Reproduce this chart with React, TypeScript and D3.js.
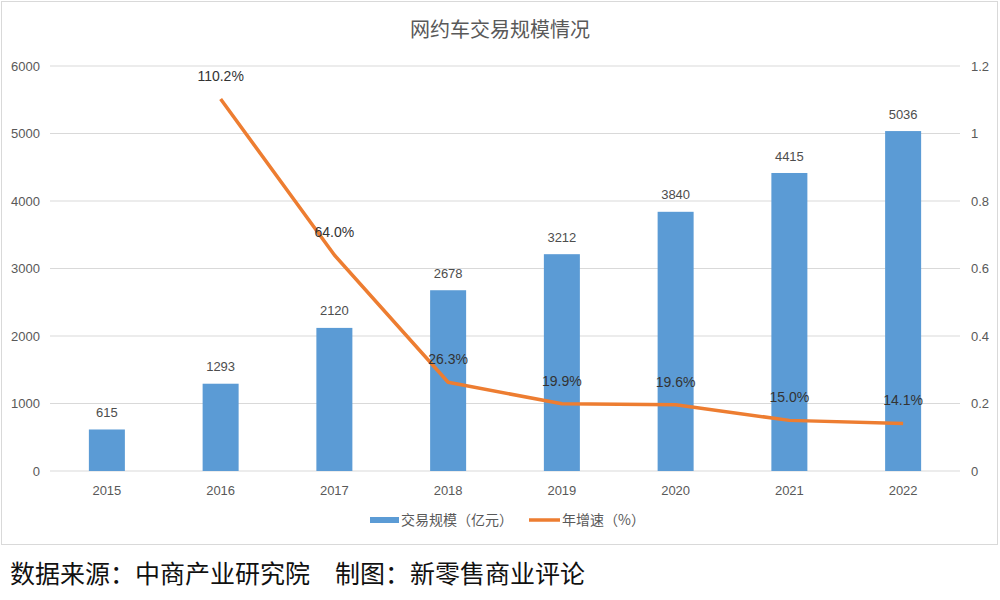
import { useEffect, useRef } from 'react';
import * as d3 from 'd3';

const years = ['2015', '2016', '2017', '2018', '2019', '2020', '2021', '2022'];
const volume = [615, 1293, 2120, 2678, 3212, 3840, 4415, 5036];
const growth = [null, 1.102, 0.64, 0.263, 0.199, 0.196, 0.15, 0.141];
const leftTicks = [0, 1000, 2000, 3000, 4000, 5000, 6000];
const rightTicks = [0, 0.2, 0.4, 0.6, 0.8, 1, 1.2];

const BLUE = '#5B9BD5';
const ORANGE = '#ED7D31';
const GRAY = '#595959';
const FONT = '"Liberation Sans", "Noto Sans CJK SC", sans-serif';
const CJK = '"Noto Sans CJK SC", sans-serif';

const App = () => {
  const ref = useRef<SVGSVGElement>(null);

  useEffect(() => {
    const svg = d3.select(ref.current);
    svg.selectAll('*').remove();

    const left = 50;
    const right = 960;
    const top = 66;
    const bottom = 471;

    // background + chart frame
    svg.append('rect').attr('width', 1000).attr('height', 600).attr('fill', '#fff');
    svg.append('rect')
      .attr('x', 1.5).attr('y', 1.5).attr('width', 996).attr('height', 543)
      .attr('fill', 'none').attr('stroke', '#d9d9d9');

    const x = d3.scaleBand().domain(years).range([left, right]).padding(0);
    const cx = (d: string) => (x(d) as number) + x.bandwidth() / 2;
    const barW = 36;
    const y = d3.scaleLinear().domain([0, 6000]).range([bottom, top]);
    const y2 = d3.scaleLinear().domain([0, 1.2]).range([bottom, top]);

    // title
    svg.append('text')
      .attr('x', 500).attr('y', 37)
      .attr('text-anchor', 'middle')
      .style('font-family', CJK).style('font-size', '20px')
      .attr('fill', GRAY)
      .text('网约车交易规模情况');

    // gridlines
    svg.append('g').selectAll('line').data(leftTicks).join('line')
      .attr('x1', left).attr('x2', right)
      .attr('y1', (d) => y(d)).attr('y2', (d) => y(d))
      .attr('stroke', '#d9d9d9').attr('stroke-width', 1);

    // left axis labels
    svg.append('g').selectAll('text').data(leftTicks).join('text')
      .attr('x', 40).attr('y', (d) => y(d)).attr('dy', '0.35em')
      .attr('text-anchor', 'end')
      .style('font-family', FONT).style('font-size', '13px')
      .attr('fill', GRAY)
      .text((d) => d);

    // right axis labels
    svg.append('g').selectAll('text').data(rightTicks).join('text')
      .attr('x', 971).attr('y', (d) => y2(d)).attr('dy', '0.35em')
      .attr('text-anchor', 'start')
      .style('font-family', FONT).style('font-size', '13px')
      .attr('fill', GRAY)
      .text((d) => d3.format('~g')(d));

    // x labels
    svg.append('g').selectAll('text').data(years).join('text')
      .attr('x', (d) => cx(d)).attr('y', 490).attr('dy', '0.35em')
      .attr('text-anchor', 'middle')
      .style('font-family', FONT).style('font-size', '13px')
      .attr('fill', GRAY)
      .text((d) => d);

    // bars
    svg.append('g').selectAll('rect').data(volume).join('rect')
      .attr('x', (_, i) => cx(years[i]) - barW / 2)
      .attr('width', barW)
      .attr('y', (d) => y(d))
      .attr('height', (d) => y(0) - y(d))
      .attr('fill', BLUE);

    // bar labels
    svg.append('g').selectAll('text').data(volume).join('text')
      .attr('x', (_, i) => cx(years[i]))
      .attr('y', (d) => y(d) - 17).attr('dy', '0.35em')
      .attr('text-anchor', 'middle')
      .style('font-family', FONT).style('font-size', '13px')
      .attr('fill', '#4d4d4d')
      .text((d) => d);

    // growth line
    const pts = growth
      .map((g, i) => ({ year: years[i], g }))
      .filter((p) => p.g !== null) as { year: string; g: number }[];

    const line = d3.line<{ year: string; g: number }>()
      .x((d) => cx(d.year))
      .y((d) => y2(d.g));

    svg.append('path')
      .attr('d', line(pts))
      .attr('fill', 'none')
      .attr('stroke', ORANGE)
      .attr('stroke-width', 3.5)
      .attr('stroke-linejoin', 'round');

    svg.append('g').selectAll('text').data(pts).join('text')
      .attr('x', (d) => cx(d.year))
      .attr('y', (d) => y2(d.g) - 23).attr('dy', '0.35em')
      .attr('text-anchor', 'middle')
      .style('font-family', FONT).style('font-size', '14px')
      .attr('fill', '#333')
      .text((d) => (d.g * 100).toFixed(1) + '%');

    // legend
    const lg = svg.append('g').attr('transform', 'translate(0,520)');
    lg.append('rect').attr('x', 370).attr('y', -3).attr('width', 29).attr('height', 6).attr('fill', BLUE);
    lg.append('text').attr('x', 401).attr('dy', '0.35em')
      .style('font-family', CJK).style('font-size', '14px').attr('fill', GRAY)
      .text('交易规模（亿元）');
    lg.append('line').attr('x1', 529).attr('x2', 560).attr('stroke', ORANGE).attr('stroke-width', 3.5);
    lg.append('text').attr('x', 562).attr('dy', '0.35em')
      .style('font-family', CJK).style('font-size', '14px').attr('fill', GRAY)
      .text('年增速（%）');

    // footer source
    svg.append('text')
      .attr('x', 10).attr('y', 583)
      .style('font-family', CJK).style('font-size', '25px')
      .style('white-space', 'pre')
      .attr('fill', '#111')
      .text('数据来源：中商产业研究院　制图：新零售商业评论');
  }, []);

  return (
    <svg
      ref={ref}
      width={1000}
      height={600}
      style={{ position: 'absolute', left: 0, top: 0 }}
    />
  );
};

export default App;
